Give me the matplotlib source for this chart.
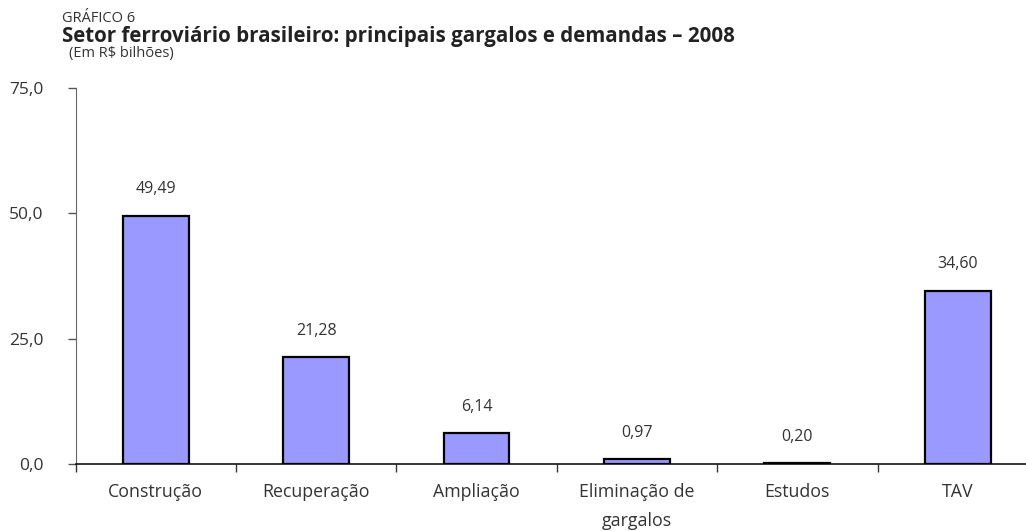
import numpy as np
import matplotlib.pyplot as plt

plt.rcParams['font.family'] = ['Open Sans', 'DejaVu Sans']

categorias = ['Construção', 'Recuperação', 'Ampliação', 'Eliminação de\ngargalos', 'Estudos', 'TAV']
valores = [49.49, 21.28, 6.14, 0.97, 0.20, 34.60]
rotulos = ['49,49', '21,28', '6,14', '0,97', '0,20', '34,60']
yticks = [0, 25, 50, 75]
ytick_labels = ['0,0', '25,0', '50,0', '75,0']

fig = plt.figure(figsize=(10.26, 5.31), dpi=100)
ax = fig.add_axes([0.0736, 0.1262, 0.938, 0.7081])

x = np.arange(len(categorias))
ax.bar(x, valores, width=0.41, color='#9999FF', edgecolor='black', linewidth=1.6, zorder=3)

for xi, v, txt in zip(x, valores, rotulos):
    ax.annotate(txt, (xi, v), xytext=(0, 19), textcoords='offset points',
                ha='center', va='center', fontsize=11.5, color='#333333')

ax.set_xlim(-0.5, len(categorias) - 0.5)
ax.set_ylim(0, 75)
ax.set_yticks(yticks)
ax.set_yticklabels(ytick_labels, fontsize=12.5, color='#333333')

# category boundaries as ticks, labels in the middle
ax.set_xticks(np.arange(-0.5, len(categorias) - 0.4, 1))
ax.set_xticklabels([])
ax.set_xticks(x, minor=True)
ax.set_xticklabels(categorias, minor=True, fontsize=12.8, color='#333333', linespacing=1.75)
ax.tick_params(axis='x', which='minor', length=0, pad=14)
ax.tick_params(axis='x', which='major', length=6, width=1, color='#333333')
ax.tick_params(axis='y', length=6, width=1, color='#555555', pad=17)

for s in ['top', 'right']:
    ax.spines[s].set_visible(False)
ax.spines['left'].set_color('#666666')
ax.spines['bottom'].set_color('black')
ax.spines['bottom'].set_linewidth(1.1)

fig.text(0.0604, 0.966, 'GRÁFICO 6', fontsize=10.5, color='#333333', va='center')
fig.text(0.0604, 0.931, 'Setor ferroviário brasileiro: principais gargalos e demandas – 2008',
         fontsize=14.8, fontweight='bold', color='#222222', va='center')
fig.text(0.0672, 0.900, '(Em R$ bilhões)', fontsize=10.5, color='#333333', va='center')

plt.savefig('out.png', dpi=100)
